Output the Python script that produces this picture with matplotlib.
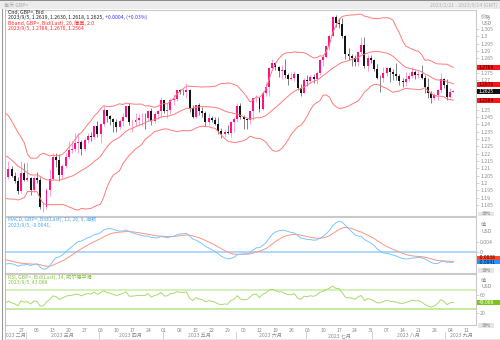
import numpy as np
import pandas as pd
import matplotlib
matplotlib.use("Agg")
import matplotlib.pyplot as plt
from matplotlib.patches import Rectangle
from matplotlib.ticker import FuncFormatter

plt.rcParams['font.family'] = ['Noto Sans CJK SC', 'DejaVu Sans']

W, H = 500, 340
FS = 3.7

# GBP= daily closes 2022/12/1 - 2023/2/20, only used to warm up the indicators
warmup_close = [
    1.2246, 1.2286, 1.2185, 1.2158, 1.2200, 1.2240, 1.2265, 1.2275, 1.2366, 1.2419, 1.2184,
    1.2142, 1.2184, 1.2153, 1.2092, 1.2038, 1.2046, 1.2066, 1.2025, 1.2022, 1.2067, 1.2097,
    1.2037, 1.1967, 1.2053, 1.1941, 1.2091, 1.2181, 1.2156, 1.2151, 1.2216, 1.2228, 1.2199,
    1.2297, 1.2353, 1.2389, 1.2396, 1.2367, 1.2336, 1.2412, 1.2406, 1.2394, 1.2322, 1.2323,
    1.2387, 1.2231, 1.2054, 1.2017, 1.2040, 1.2102, 1.2113, 1.2119, 1.2155, 1.2174, 1.2043,
    1.2022, 1.2034, 1.2046,
]

# daily bars 2023/2/21 - 2023/9/5 (one line per month)
open_ = [
    1.2043, 1.2097, 1.2050, 1.2015, 1.1944, 1.2068,
    1.2022, 1.2036, 1.1953, 1.2036, 1.2022, 1.1834, 1.1837, 1.1950, 1.2030, 1.2177, 1.2158, 1.2054, 1.2114, 1.2176, 1.2224, 1.2230, 1.2271, 1.2278, 1.2233, 1.2293, 1.2322, 1.2311, 1.2391,
    1.2336, 1.2404, 1.2496, 1.2454, 1.2439, 1.2412, 1.2379, 1.2420, 1.2451, 1.2521, 1.2414, 1.2415, 1.2427, 1.2440, 1.2442, 1.2440, 1.2490, 1.2420, 1.2470, 1.2489,
    1.2566, 1.2490, 1.2494, 1.2566, 1.2573, 1.2632, 1.2620, 1.2619, 1.2634, 1.2511, 1.2451, 1.2530, 1.2493, 1.2476, 1.2418, 1.2444, 1.2429, 1.2405, 1.2354, 1.2331, 1.2346, 1.2338, 1.2412,
    1.2437, 1.2525, 1.2449, 1.2434, 1.2432, 1.2490, 1.2576, 1.2576, 1.2505, 1.2611, 1.2657, 1.2786, 1.2818, 1.2790, 1.2764, 1.2768, 1.2737, 1.2711, 1.2712, 1.2739, 1.2647, 1.2616,
    1.2704, 1.2692, 1.2720, 1.2707, 1.2748, 1.2837, 1.2861, 1.2935, 1.3000, 1.3132, 1.3087, 1.3085, 1.2999, 1.2878, 1.2862, 1.2854, 1.2821, 1.2894, 1.2939, 1.2796, 1.2850,
    1.2835, 1.2779, 1.2715, 1.2713, 1.2747, 1.2784, 1.2753, 1.2741, 1.2729, 1.2695, 1.2688, 1.2706, 1.2729, 1.2755, 1.2734, 1.2740, 1.2713, 1.2654, 1.2615, 1.2580, 1.2597, 1.2636, 1.2708,
    1.2670, 1.2584, 1.2619,
]
high = [
    1.2148, 1.2118, 1.2074, 1.2040, 1.2147, 1.2138,
    1.2143, 1.2039, 1.2046, 1.2073, 1.2038, 1.1868, 1.1967, 1.2092, 1.2204, 1.2203, 1.2196, 1.2130, 1.2203, 1.2287, 1.2283, 1.2343, 1.2343, 1.2290, 1.2305, 1.2343, 1.2345, 1.2395, 1.2424,
    1.2405, 1.2525, 1.2500, 1.2466, 1.2441, 1.2439, 1.2437, 1.2475, 1.2524, 1.2546, 1.2437, 1.2474, 1.2473, 1.2475, 1.2474, 1.2500, 1.2509, 1.2483, 1.2494, 1.2584,
    1.2566, 1.2545, 1.2580, 1.2606, 1.2635, 1.2641, 1.2638, 1.2680, 1.2637, 1.2528, 1.2533, 1.2547, 1.2519, 1.2487, 1.2480, 1.2457, 1.2448, 1.2446, 1.2371, 1.2365, 1.2393, 1.2420, 1.2446,
    1.2545, 1.2543, 1.2464, 1.2443, 1.2491, 1.2580, 1.2599, 1.2578, 1.2624, 1.2686, 1.2791, 1.2848, 1.2823, 1.2800, 1.2802, 1.2842, 1.2749, 1.2757, 1.2762, 1.2741, 1.2677, 1.2718,
    1.2737, 1.2737, 1.2745, 1.2760, 1.2848, 1.2872, 1.2938, 1.3005, 1.3141, 1.3142, 1.3125, 1.3125, 1.3005, 1.2917, 1.2876, 1.2873, 1.2898, 1.2996, 1.2996, 1.2870, 1.2871,
    1.2847, 1.2810, 1.2736, 1.2792, 1.2790, 1.2787, 1.2775, 1.2818, 1.2745, 1.2716, 1.2754, 1.2749, 1.2787, 1.2767, 1.2766, 1.2804, 1.2738, 1.2718, 1.2625, 1.2610, 1.2640, 1.2746, 1.2712,
    1.2707, 1.2645, 1.2630,
]
low = [
    1.2024, 1.2038, 1.2000, 1.1924, 1.1932, 1.2015,
    1.2012, 1.1920, 1.1940, 1.2000, 1.1825, 1.1803, 1.1825, 1.1912, 1.2022, 1.2109, 1.2010, 1.2030, 1.2105, 1.2162, 1.2202, 1.2216, 1.2202, 1.2190, 1.2220, 1.2270, 1.2288, 1.2300, 1.2310,
    1.2275, 1.2391, 1.2418, 1.2392, 1.2345, 1.2345, 1.2367, 1.2390, 1.2445, 1.2398, 1.2345, 1.2390, 1.2386, 1.2391, 1.2367, 1.2420, 1.2393, 1.2410, 1.2436, 1.2440,
    1.2475, 1.2443, 1.2470, 1.2531, 1.2556, 1.2603, 1.2598, 1.2582, 1.2484, 1.2444, 1.2440, 1.2465, 1.2449, 1.2391, 1.2392, 1.2412, 1.2393, 1.2335, 1.2308, 1.2313, 1.2334, 1.2314, 1.2347,
    1.2414, 1.2435, 1.2369, 1.2365, 1.2401, 1.2431, 1.2551, 1.2486, 1.2500, 1.2590, 1.2592, 1.2769, 1.2768, 1.2719, 1.2707, 1.2712, 1.2669, 1.2700, 1.2693, 1.2634, 1.2590, 1.2610,
    1.2659, 1.2678, 1.2679, 1.2677, 1.2735, 1.2798, 1.2850, 1.2907, 1.2998, 1.3063, 1.3055, 1.2987, 1.2845, 1.2837, 1.2798, 1.2797, 1.2800, 1.2881, 1.2785, 1.2761, 1.2820,
    1.2760, 1.2705, 1.2620, 1.2688, 1.2727, 1.2688, 1.2700, 1.2700, 1.2670, 1.2653, 1.2658, 1.2693, 1.2716, 1.2710, 1.2714, 1.2706, 1.2616, 1.2581, 1.2548, 1.2565, 1.2568, 1.2616, 1.2645,
    1.2562, 1.2580, 1.2618,
]
close = [
    1.2097, 1.2050, 1.2015, 1.1944, 1.2068, 1.2022,
    1.2036, 1.1953, 1.2036, 1.2022, 1.1834, 1.1837, 1.1950, 1.2030, 1.2177, 1.2158, 1.2054, 1.2114, 1.2176, 1.2224, 1.2230, 1.2271, 1.2278, 1.2233, 1.2293, 1.2322, 1.2311, 1.2391, 1.2336,
    1.2404, 1.2496, 1.2454, 1.2439, 1.2412, 1.2379, 1.2420, 1.2451, 1.2521, 1.2414, 1.2415, 1.2427, 1.2440, 1.2442, 1.2440, 1.2490, 1.2420, 1.2470, 1.2489, 1.2566,
    1.2490, 1.2494, 1.2566, 1.2573, 1.2632, 1.2620, 1.2619, 1.2634, 1.2511, 1.2451, 1.2530, 1.2493, 1.2476, 1.2418, 1.2444, 1.2429, 1.2405, 1.2354, 1.2331, 1.2346, 1.2338, 1.2412, 1.2437,
    1.2525, 1.2449, 1.2434, 1.2432, 1.2490, 1.2576, 1.2576, 1.2505, 1.2611, 1.2657, 1.2786, 1.2818, 1.2790, 1.2764, 1.2768, 1.2737, 1.2711, 1.2712, 1.2739, 1.2647, 1.2616, 1.2704,
    1.2692, 1.2720, 1.2707, 1.2748, 1.2837, 1.2861, 1.2935, 1.3000, 1.3132, 1.3087, 1.3085, 1.2999, 1.2878, 1.2862, 1.2854, 1.2821, 1.2894, 1.2939, 1.2796, 1.2850, 1.2835,
    1.2779, 1.2715, 1.2713, 1.2747, 1.2784, 1.2753, 1.2741, 1.2729, 1.2695, 1.2688, 1.2706, 1.2729, 1.2755, 1.2734, 1.2740, 1.2713, 1.2654, 1.2615, 1.2580, 1.2597, 1.2636, 1.2708, 1.2670,
    1.2584, 1.2621, 1.2625,
]

dates = pd.bdate_range("2023-02-21", "2023-09-05")
axis_dates = pd.bdate_range("2023-02-20", "2023-09-14")
month_names = {2: "二月", 3: "三月", 4: "四月", 5: "五月", 6: "六月", 7: "七月", 8: "八月", 9: "九月"}

price_ticks = [1.185, 1.19, 1.195, 1.2, 1.205, 1.21, 1.215, 1.22, 1.225, 1.23, 1.235, 1.24,
               1.245, 1.25, 1.27, 1.275, 1.285, 1.29, 1.295, 1.3, 1.305]
macd_ticks = [0, 0.004]
rsi_ticks = [20, 60]
rsi_levels = [30, 70]

UP = '#ff1188'
UP_WICK = '#ff8ec8'
DOWN = '#141414'
DOWN_WICK = '#6e6e6e'
BAND = '#ff7b7b'
MACD_C = '#7cc6ff'
SIGNAL_C = '#ff9482'
RSI_C = '#a6dc6a'
GRID_GREY = '#c9c9c9'

# ---- indicators -------------------------------------------------------
n_pre = len(warmup_close)
full = pd.Series(warmup_close + close, dtype=float)
mid = full.rolling(20).mean()
sd = full.rolling(20).std(ddof=0)
upper = mid + 2 * sd
lower = mid - 2 * sd
macd = full.ewm(span=12, adjust=False).mean() - full.ewm(span=26, adjust=False).mean()
signal = macd.ewm(span=9, adjust=False).mean()
delta = full.diff()
gain = delta.clip(lower=0).ewm(alpha=1 / 14, adjust=False).mean()
loss = (-delta.clip(upper=0)).ewm(alpha=1 / 14, adjust=False).mean()
rsi = 100 - 100 / (1 + gain / loss)

seg = slice(n_pre - 1, None)          # from 2023/2/20 so lines reach the left edge
xs = np.arange(-1, len(close))

# ---- figure -----------------------------------------------------------
fig = plt.figure(figsize=(W / 100, H / 100), dpi=100, facecolor='white')


def fx(x):
    return x / W


def fy(y):
    return 1 - y / H


def panel(top, bottom):
    return fig.add_axes([fx(5), fy(bottom), fx(476) - fx(5), (bottom - top) / H])


ax = panel(9.5, 215.5)
axm = panel(216.5, 272.5)
axr = panel(273.5, 325)
XMIN, XMAX = -1.05, 147.1
for a in (ax, axm, axr):
    a.set_xlim(XMIN, XMAX)
    a.set_xticks([])
    a.yaxis.tick_right()
    a.tick_params(axis='y', length=2, width=0.4, color='#b4b4b4', labelsize=FS,
                  labelcolor='#8c8c8c', pad=1)
    a.yaxis.set_major_formatter(FuncFormatter(lambda v, _: f"{round(v, 4):g}"))
    for s in a.spines.values():
        s.set_color(GRID_GREY)
        s.set_linewidth(0.8)
    a.set_facecolor('white')

# candles
x = np.arange(len(close))
o, h, l, c = (np.array(v) for v in (open_, high, low, close))
up = c >= o
ax.vlines(x[up], l[up], h[up], color=UP_WICK, lw=0.6, zorder=2)
ax.vlines(x[~up], l[~up], h[~up], color=DOWN_WICK, lw=0.6, zorder=2)
ax.bar(x[up], np.maximum(c - o, 0.0003)[up], bottom=o[up], width=0.62, color=UP, lw=0, zorder=3)
ax.bar(x[~up], np.maximum(o - c, 0.0003)[~up], bottom=c[~up], width=0.62, color=DOWN, lw=0, zorder=3)

for band in (upper, mid, lower):
    ax.plot(xs, band.values[seg], color=BAND, lw=0.7, zorder=4)
ax.set_ylim(1.1778, 1.3182)
ax.set_yticks(price_ticks)

axm.axhline(0, color='#a6d6ff', lw=1.3, zorder=1)
axm.plot(xs, macd.values[seg], color=MACD_C, lw=0.7, zorder=3)
axm.plot(xs, signal.values[seg], color=SIGNAL_C, lw=0.7, zorder=2)
axm.set_ylim(-0.0082, 0.0142)
axm.set_yticks(macd_ticks)

axr.axhline(rsi_levels[1], color='#d2efb4', lw=1.3, zorder=1)
axr.axhline(rsi_levels[0], color='#b4e488', lw=1.1, zorder=1)
axr.plot(xs, rsi.values[seg], color=RSI_C, lw=0.7, zorder=2)
axr.set_ylim(-5.5, 105.8)
axr.set_yticks(rsi_ticks)

# ---- header bar --------------------------------------------------------
fig.patches.append(Rectangle((0, fy(8.5)), 1, 8.5 / H, transform=fig.transFigure,
                             fc='#ececec', ec='none', zorder=0))
fig.patches.append(Rectangle((0, fy(1.3)), 1, 1.3 / H, transform=fig.transFigure,
                             fc='#8c8c8c', ec='none', zorder=0))
fig.text(fx(4), fy(4.8), "每天 GBP=", fontsize=FS, color='#a8a8a8', va='center')
fig.text(fx(497), fy(4.8), "2023/2/21 - 2023/9/14 (GMT)", fontsize=FS, color='#b4b4b4',
         va='center', ha='right')
fig.add_artist(plt.Line2D([fx(1.6), fx(1.6)], [fy(8.5), 0], transform=fig.transFigure,
                          color='#9a9a9a', lw=0.8))

# ---- legends inside panels ----------------------------------------------
last = dates[-1]
dstr = f"{last.year}/{last.month}/{last.day}"


def chain(y, parts):
    first = fig.text(fx(8), fy(y), parts[0][0], fontsize=FS, color=parts[0][1], va='center')
    prev = first
    for txt, col in parts[1:]:
        prev = ax.annotate(txt, xy=(1, 0.5), xycoords=prev, va='center', ha='left',
                           fontsize=FS, color=col, annotation_clip=False)
    return first


chg = c[-1] - c[-2]
chain(12.7, [("Cnd, GBP=, Bid", '#222222')])
chain(17.7, [(f"{dstr}, {o[-1]:.4f}, {h[-1]:.4f}, {l[-1]:.4f}, {c[-1]:.4f}, ", '#222222'),
             (f"{chg:+.4f}, ({chg / c[-2] * 100:+.2f}%)", '#3a3aff')])
chain(22.9, [("Bband, GBP=, Bid(Last), 20, 简单, 2.0", '#ff2a2a')])
chain(28.2, [(f"{dstr}, {upper.iloc[-1]:.4f}, {mid.iloc[-1]:.4f}, {lower.iloc[-1]:.4f}", '#ff2a2a')])

chain(219.5, [("MACD, GBP=, Bid(Last), 12, 26, 9, 指数", '#4aa8ff')])
chain(225.0, [(f"{dstr}, {macd.iloc[-1]:.4f}, ", '#4aa8ff'), (f"{signal.iloc[-1]:.4f}", '#ff5a40')])

chain(277.2, [("RSI, GBP=, Bid(Last), 14, 威尔德平滑", '#86c43c')])
chain(282.6, [(f"{dstr}, {rsi.iloc[-1]:.3f}", '#86c43c')])

# ---- right scale headers and value boxes --------------------------------
for y, txt in ((17.3, "价格"), (23.3, "USD"), (225.0, "值"), (231.7, "USD"),
               (280.7, "值"), (286.7, "USD")):
    fig.text(fx(481), fy(y), txt, fontsize=FS, color='#8c8c8c', va='center')


def y_px(a, v):
    return H - a.transData.transform((0, v))[1]


def value_box(y, txt, fc, tc, hgt=4.8):
    fig.patches.append(Rectangle((fx(477), fy(y + hgt / 2)), fx(23), hgt / H,
                                 transform=fig.transFigure, fc=fc, ec='none', zorder=5))
    fig.text(fx(479), fy(y), txt, fontsize=FS - 0.1, color=tc, va='center', zorder=6)


value_box(y_px(ax, upper.iloc[-1]), f"{upper.iloc[-1]:.4f}", '#ff1414', '#3a0000')
value_box(y_px(ax, mid.iloc[-1]) + 0.6, f"{mid.iloc[-1]:.4f}", '#ff1414', '#3a0000')
value_box(y_px(ax, lower.iloc[-1]), f"{lower.iloc[-1]:.4f}", '#ff1414', '#3a0000')
value_box(y_px(ax, c[-1]), f"{c[-1]:.4f}", '#111111', 'white')

ym_sig = y_px(axm, signal.iloc[-1])
ym_macd = y_px(axm, macd.iloc[-1])
if abs(ym_sig - ym_macd) < 3.6:
    ym_sig = min(ym_sig, ym_macd) - 3.6 if ym_sig <= ym_macd else ym_sig
value_box(ym_sig, f"{signal.iloc[-1]:.4f}", '#ff4a2a', '#3a0000', 4.2)
value_box(ym_macd, f"{macd.iloc[-1]:.4f}", '#2a92ff', '#06203a', 4.2)
value_box(y_px(axr, rsi.iloc[-1]), f"{rsi.iloc[-1]:.3f}", '#7cc41c', 'white')

for y in (213.8, 270.4, 325.2):
    fig.patches.append(Rectangle((fx(478), fy(y + 2.3)), fx(16), 4.6 / H,
                                 transform=fig.transFigure, fc='#e6e6e6', ec='none', zorder=5))
    fig.text(fx(486), fy(y), "自动", fontsize=FS - 0.3, color='#9a9a9a', va='center',
             ha='center', zorder=6)

# ---- date axis ------------------------------------------------------------
axd = fig.add_axes([fx(5), 0, fx(476) - fx(5), fy(325)])
axd.set_xlim(XMIN, XMAX)
axd.set_ylim(0, 1)
axd.axis('off')
pos = {d: i - 1 for i, d in enumerate(axis_dates)}
for d, i in pos.items():
    if d.weekday() == 0 and i >= 0:
        axd.text(i, 0.62, f"{d.day:02d}", fontsize=FS, color='#8c8c8c', ha='center',
                 va='center', clip_on=True)
months = sorted({d.month for d in axis_dates})
for m in months:
    idx = [i for d, i in pos.items() if d.month == m]
    lo, hi = max(min(idx), XMIN), min(max(idx), XMAX)
    axd.text((lo + hi) / 2, 0.3, f"2023 {month_names[m]}", fontsize=FS, color='#8c8c8c',
             ha='center', va='center', clip_on=True)
    if min(idx) > 0:
        axd.plot([min(idx) - 0.5] * 2, [0.05, 0.52], color='#bdbdbd', lw=0.5)
fig.add_artist(plt.Line2D([fx(5), fx(5)], [0, fy(8.5)], transform=fig.transFigure,
                          color='#bdbdbd', lw=0.6))
fig.add_artist(plt.Line2D([fx(5), 1], [fy(339.3), fy(339.3)], transform=fig.transFigure,
                          color='#e2e2e2', lw=0.6))

fig.savefig("out.png", dpi=100, facecolor='white')
